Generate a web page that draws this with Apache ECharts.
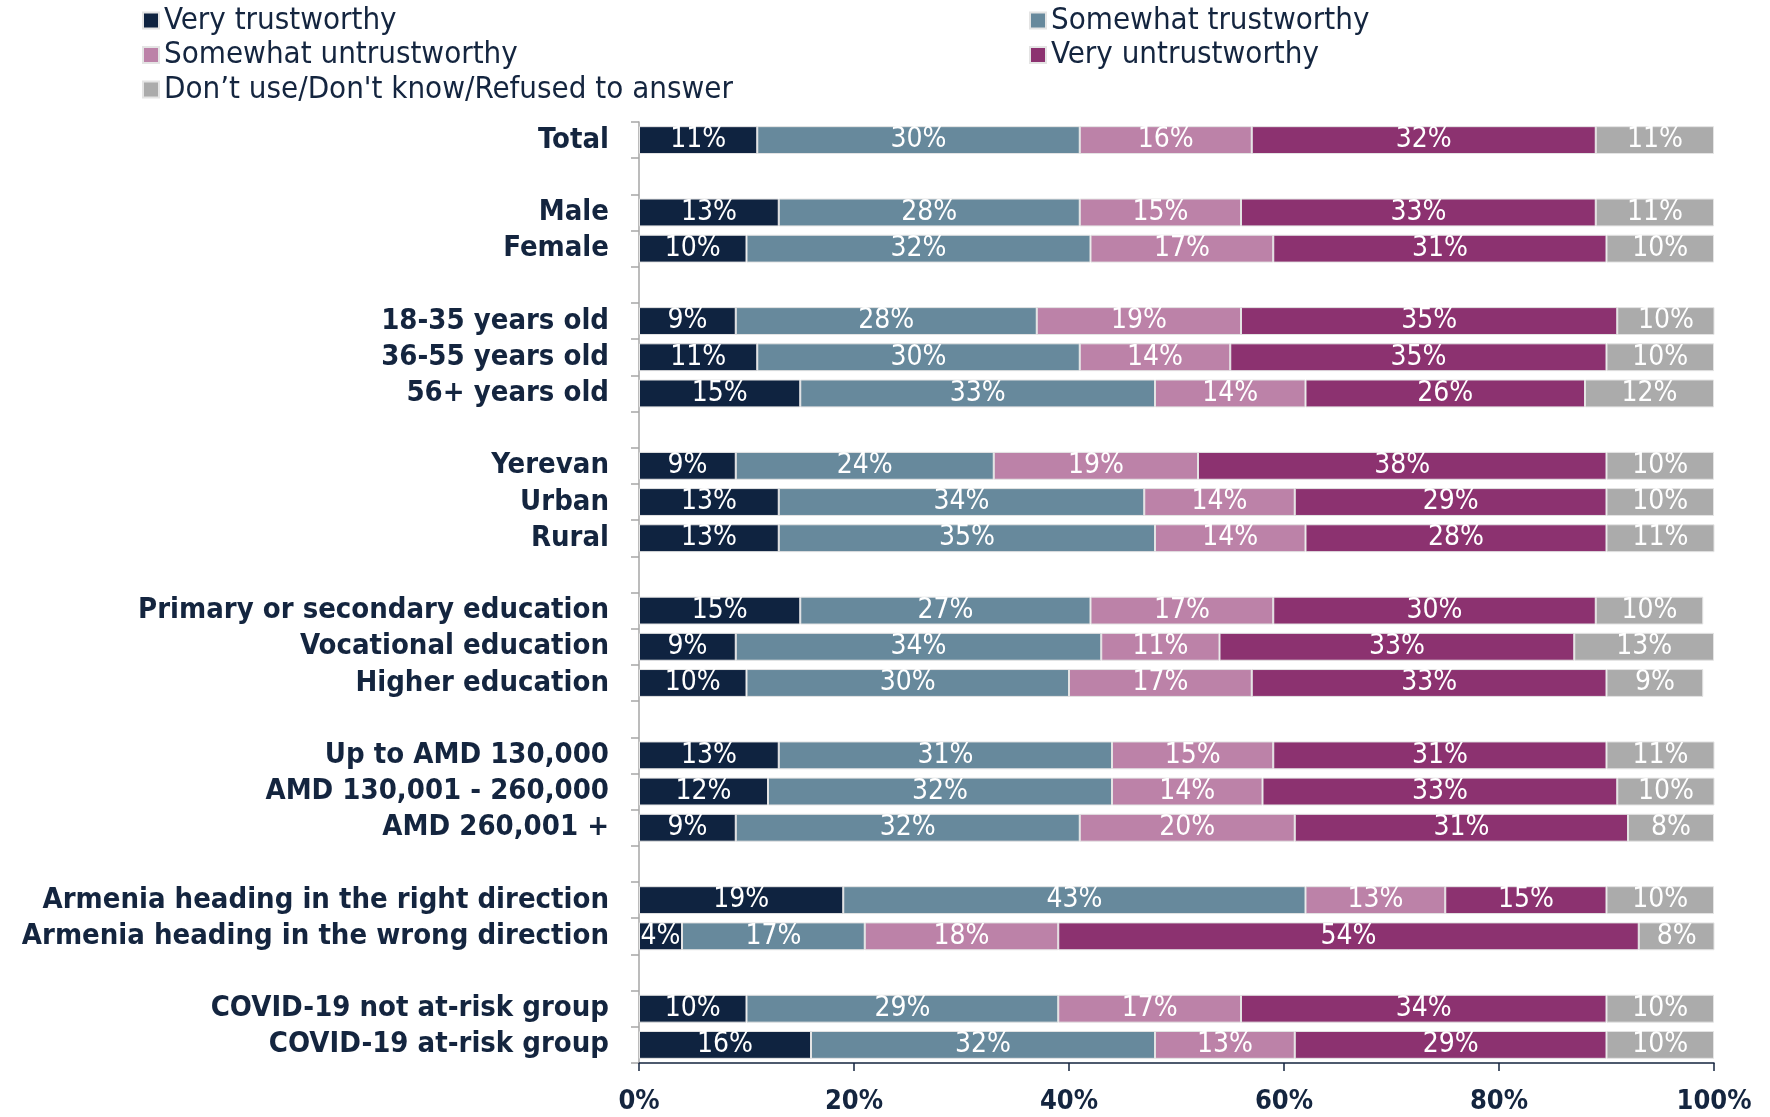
<!DOCTYPE html>
<html>
<head>
<meta charset="utf-8">
<script src="https://cdn.jsdelivr.net/npm/echarts@6/dist/echarts.min.js"></script>
<style>
  html, body { margin: 0; padding: 0; background: #fff; }
  #chart { width: 1770px; height: 1117px; }
</style>
</head>
<body>
<div id="chart"></div>
<script>
// Row labels, top to bottom; blank strings are spacer rows between groups
const categories = [
  'Total', ' ',
  'Male', 'Female', '  ',
  '18-35 years old', '36-55 years old', '56+ years old', '   ',
  'Yerevan', 'Urban', 'Rural', '    ',
  'Primary or secondary education', 'Vocational education', 'Higher education', '     ',
  'Up to AMD 130,000', 'AMD 130,001 - 260,000', 'AMD 260,001 +', '      ',
  'Armenia heading in the right direction', 'Armenia heading in the wrong direction', '       ',
  'COVID-19 not at-risk group', 'COVID-19 at-risk group'
];

const seriesNames = [
  'Very trustworthy',
  'Somewhat trustworthy',
  'Somewhat untrustworthy',
  'Very untrustworthy',
  'Don\u2019t use/Don\'t know/Refused to answer'
];

// Percent of respondents per row (null = spacer row)
const veryTrustworthy = [11, null, 13, 10, null, 9, 11, 15, null, 9, 13, 13, null, 15, 9, 10, null, 13, 12, 9, null, 19, 4, null, 10, 16];
const somewhatTrustworthy = [30, null, 28, 32, null, 28, 30, 33, null, 24, 34, 35, null, 27, 34, 30, null, 31, 32, 32, null, 43, 17, null, 29, 32];
const somewhatUntrustworthy = [16, null, 15, 17, null, 19, 14, 14, null, 19, 14, 14, null, 17, 11, 17, null, 15, 14, 20, null, 13, 18, null, 17, 13];
const veryUntrustworthy = [32, null, 33, 31, null, 35, 35, 26, null, 38, 29, 28, null, 30, 33, 33, null, 31, 33, 31, null, 15, 54, null, 34, 29];
const dontKnow = [11, null, 11, 10, null, 10, 10, 12, null, 10, 10, 11, null, 10, 13, 9, null, 11, 10, 8, null, 10, 8, null, 10, 10];

const xTicks = [0, 20, 40, 60, 80, 100];

const colors = ['#0f2340', '#67899c', '#bc82a8', '#8c3270', '#ababab'];
const values = [veryTrustworthy, somewhatTrustworthy, somewhatUntrustworthy, veryUntrustworthy, dontKnow];

const FONT = '"DejaVu Sans Condensed", "DejaVu Sans", sans-serif';
const NAVY = '#14253f';

const chart = echarts.init(document.getElementById('chart'), null, { renderer: 'canvas' });

const legendText = { fontFamily: FONT, fontSize: 31, color: NAVY, lineHeight: 31 };

chart.setOption({
  animation: false,
  backgroundColor: '#ffffff',
  color: colors,
  legend: [
    {
      orient: 'vertical', left: 142, top: 5, padding: 0, itemGap: 3.5,
      itemWidth: 16, itemHeight: 16, icon: 'rect',
      textStyle: legendText,
      data: [seriesNames[0], seriesNames[2], seriesNames[4]]
    },
    {
      orient: 'vertical', left: 1029, top: 5, padding: 0, itemGap: 3.5,
      itemWidth: 16, itemHeight: 16, icon: 'rect',
      textStyle: legendText,
      data: [seriesNames[1], seriesNames[3]]
    }
  ],
  grid: { left: 639, right: 56, top: 122, bottom: 54, containLabel: false },
  xAxis: {
    type: 'value', min: 0, max: 100, interval: 20,
    splitLine: { show: false },
    axisLine: { show: true, lineStyle: { color: NAVY, width: 1.5 } },
    axisTick: { show: true, length: 8, lineStyle: { color: NAVY, width: 1.5 } },
    axisLabel: {
      margin: 25, fontFamily: FONT, fontWeight: 'bold', fontSize: 27, color: NAVY,
      formatter: v => (xTicks.indexOf(v) >= 0 ? v + '%' : '')
    }
  },
  yAxis: {
    type: 'category', inverse: true, data: categories,
    axisLine: { show: true, lineStyle: { color: '#a6a6a6', width: 1.5 } },
    axisTick: { show: true, length: 8, interval: 0, alignWithLabel: false, lineStyle: { color: '#a6a6a6', width: 1.5 } },
    axisLabel: {
      interval: 0, margin: 30, fontFamily: FONT, fontWeight: 'bold', fontSize: 29, color: NAVY
    }
  },
  series: seriesNames.map((name, i) => ({
    name: name,
    type: 'bar',
    stack: 'share',
    barWidth: '77%',
    data: values[i],
    itemStyle: { color: colors[i], borderColor: '#e4e4e4', borderWidth: 1 },
    label: {
      show: true, position: 'inside', color: '#ffffff',
      fontFamily: FONT, fontSize: 28,
      formatter: p => (p.value == null ? '' : p.value + '%')
    }
  }))
});
</script>
</body>
</html>
